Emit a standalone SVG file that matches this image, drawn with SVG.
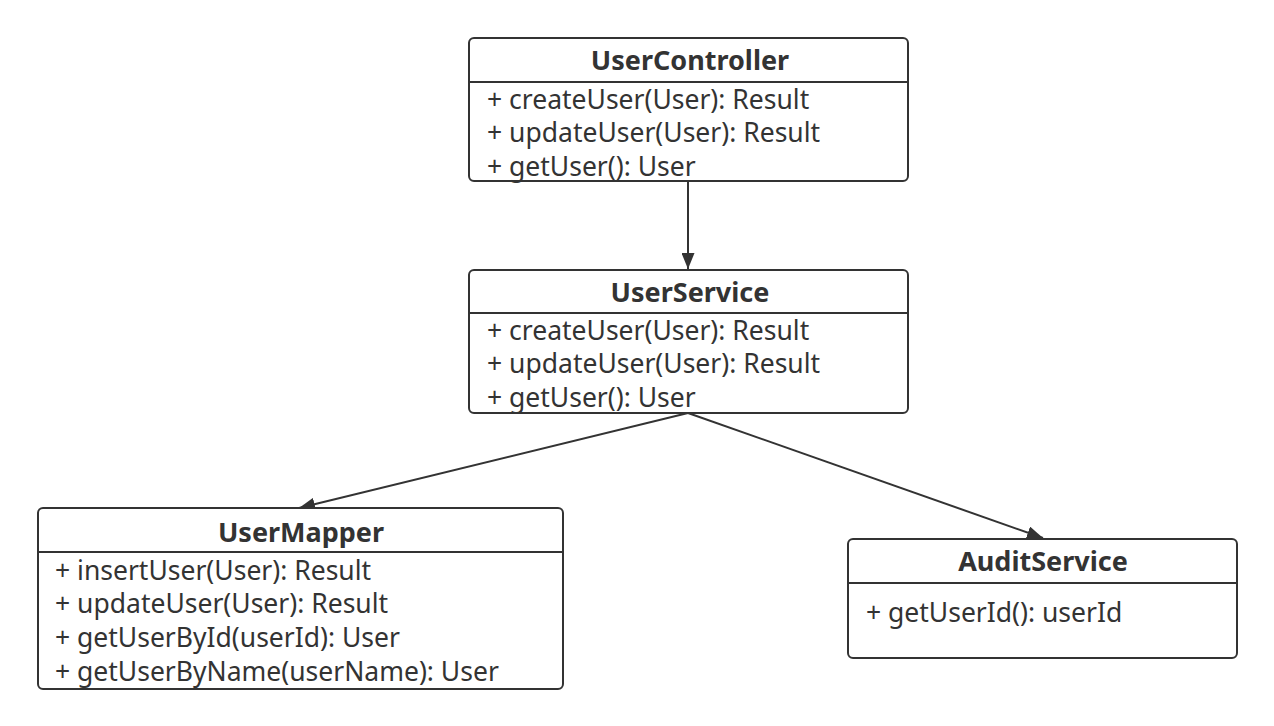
<svg xmlns="http://www.w3.org/2000/svg" width="1274" height="726" viewBox="0 0 1274 726">
<style>
.box{fill:#fff;stroke:#333;stroke-width:2}
.sep{stroke:#333;stroke-width:2}
.t{font-family:"Noto Sans","Open Sans","Liberation Sans",sans-serif;font-size:27px;font-weight:bold;fill:#333;text-anchor:middle}
.m{font-family:"Noto Sans","Open Sans","Liberation Sans",sans-serif;font-size:26.5px;fill:#333}
.c{stroke:#333;stroke-width:2;fill:none}
</style>
<defs>
<marker id="arr" viewBox="0 0 16 13" refX="16" refY="6.5" markerWidth="16" markerHeight="13" markerUnits="userSpaceOnUse" orient="auto">
<path d="M0,0 L16,6.5 L0,13 Z" fill="#333"/>
</marker>
</defs>
<rect width="1274" height="726" fill="#fff"/>
<g id="connectors">
<line class="c" x1="688" y1="181" x2="688" y2="269" marker-end="url(#arr)"/>
<line class="c" x1="688" y1="413" x2="299" y2="508" marker-end="url(#arr)"/>
<line class="c" x1="688" y1="413" x2="1043" y2="538" marker-end="url(#arr)"/>
</g>
<g id="UserController">
<rect class="box" x="469" y="38" width="439" height="143" rx="5"/>
<line class="sep" x1="469" y1="82" x2="908" y2="82"/>
<text class="t" x="690" y="70">UserController</text>
<text class="m" x="487" y="109">+ createUser(User): Result</text>
<text class="m" x="487" y="142">+ updateUser(User): Result</text>
<text class="m" x="487" y="176">+ getUser(): User</text>
</g>
<g id="UserService">
<rect class="box" x="469" y="270" width="439" height="143" rx="5"/>
<line class="sep" x1="469" y1="313" x2="908" y2="313"/>
<text class="t" x="690" y="302">UserService</text>
<text class="m" x="487" y="340">+ createUser(User): Result</text>
<text class="m" x="487" y="373">+ updateUser(User): Result</text>
<text class="m" x="487" y="407">+ getUser(): User</text>
</g>
<g id="UserMapper">
<rect class="box" x="38" y="508" width="525" height="181" rx="5"/>
<line class="sep" x1="38" y1="552" x2="563" y2="552"/>
<text class="t" x="301" y="542">UserMapper</text>
<text class="m" x="55" y="580">+ insertUser(User): Result</text>
<text class="m" x="55" y="613">+ updateUser(User): Result</text>
<text class="m" x="55" y="647">+ getUserById(userId): User</text>
<text class="m" x="55" y="681">+ getUserByName(userName): User</text>
</g>
<g id="AuditService">
<rect class="box" x="848" y="539" width="389" height="119" rx="5"/>
<line class="sep" x1="848" y1="583" x2="1237" y2="583"/>
<text class="t" x="1043" y="571">AuditService</text>
<text class="m" x="866" y="622">+ getUserId(): userId</text>
</g>
</svg>
